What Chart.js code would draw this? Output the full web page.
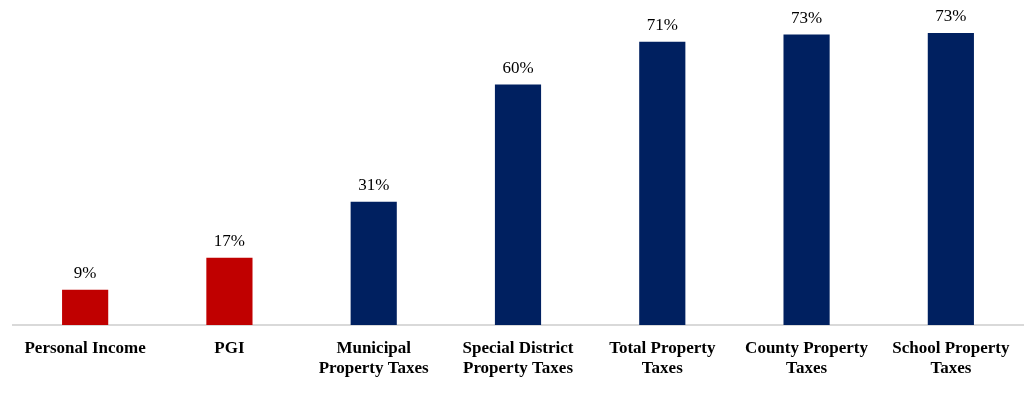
<!DOCTYPE html>
<html>
<head>
<meta charset="utf-8">
<script src="https://cdn.jsdelivr.net/npm/chart.js@4.4.1/dist/chart.umd.min.js"></script>
<style>
html,body{margin:0;padding:0;background:#fff;}
#wrap{width:1024px;height:394px;position:relative;}
</style>
</head>
<body>
<div id="wrap"><canvas id="c" width="1024" height="394"></canvas></div>
<script>
const categories = [
  ["Personal Income"],
  ["PGI"],
  ["Municipal", "Property Taxes"],
  ["Special District", "Property Taxes"],
  ["Total Property", "Taxes"],
  ["County Property", "Taxes"],
  ["School Property", "Taxes"]
];
const values = [8.8, 16.8, 30.8, 60.1, 70.8, 72.6, 73.0];
const valueLabels = ["9%", "17%", "31%", "60%", "71%", "73%", "73%"];
const barColors = ["#C00000", "#C00000", "#002060", "#002060", "#002060", "#002060", "#002060"];

const labelPlugin = {
  id: 'valueLabels',
  afterDatasetsDraw(chart) {
    const ctx = chart.ctx;
    const meta = chart.getDatasetMeta(0);
    ctx.save();
    ctx.font = '17px "Liberation Serif", "Times New Roman", serif';
    ctx.fillStyle = '#000';
    ctx.textAlign = 'center';
    ctx.textBaseline = 'bottom';
    meta.data.forEach((bar, i) => {
      ctx.fillText(valueLabels[i], bar.x, bar.y - 8);
    });
    ctx.restore();
  }
};

new Chart(document.getElementById('c'), {
  type: 'bar',
  data: {
    labels: categories,
    datasets: [{
      data: values,
      backgroundColor: barColors,
      categoryPercentage: 1.0,
      barPercentage: 0.32
    }]
  },
  options: {
    responsive: false,
    animation: false,
    devicePixelRatio: 1,
    layout: { padding: { top: 5, left: 13, right: 1, bottom: 0 } },
    plugins: { legend: { display: false }, tooltip: { enabled: false } },
    scales: {
      x: {
        grid: { display: false },
        border: { display: true, color: '#d9d9d9', width: 2 },
        ticks: {
          color: '#000',
          padding: 6,
          maxRotation: 0,
          autoSkip: false,
          font: { family: '"Liberation Serif", "Times New Roman", serif', size: 17, weight: 'bold', lineHeight: 1.18 }
        },
        afterFit(scale) { scale.height = 69; }
      },
      y: {
        display: false,
        min: 0,
        max: 80
      }
    }
  },
  plugins: [labelPlugin]
});
</script>
</body>
</html>
